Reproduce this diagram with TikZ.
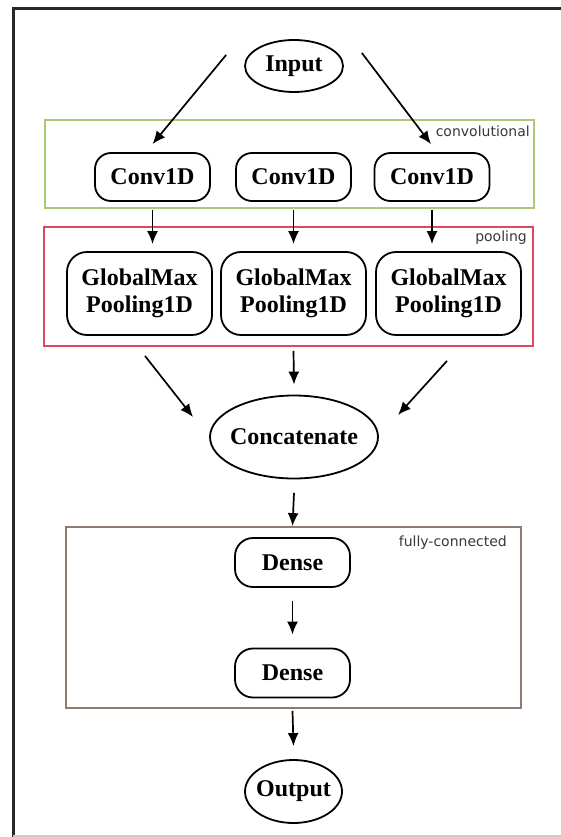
\documentclass[tikz,border=0pt]{standalone}
\usepackage{fontspec}
\setmainfont{Liberation Serif}
\newfontfamily\lblfont{DejaVu Sans}
\usetikzlibrary{shapes.geometric,arrows.meta,calc}
\definecolor{convgreen}{RGB}{172,202,118}
\definecolor{poolred}{RGB}{222,72,92}
\definecolor{fcbrown}{RGB}{140,124,114}
\definecolor{framegray}{RGB}{40,40,40}
\newcommand{\ctrtext}[1]{\makebox[0pt]{#1}}
\begin{document}
\begin{tikzpicture}[x=1pt,y=-1pt,
  mainfont/.style={font=\fontsize{24}{27}\selectfont\bfseries},
  box/.style={mainfont, draw=black, line width=1.8pt, rounded corners=16pt,
    minimum width=115pt, minimum height=48pt, inner sep=0pt, align=center},
  poolbox/.style={box, rounded corners=20pt, minimum width=145pt, minimum height=83pt},
  oval/.style={mainfont, draw=black, line width=1.8pt, ellipse, inner sep=0pt},
  arr/.style={-{Latex[length=13pt,width=11pt]}, line width=1.7pt},
  group/.style={line width=1.8pt},
  grouplabel/.style={font=\lblfont\fontsize{14}{16}\selectfont, text=black!78, anchor=east, inner sep=0pt}
]
\useasboundingbox (0,0) rectangle (561,837);
% outer frame
\draw[framegray, line width=3pt] (561,9) -- (13,9) -- (13,837);
\draw[black!20, line width=1.5pt] (13,836) -- (561,836);

% groups
\draw[group, draw=convgreen] (45,120) rectangle (534,208);
\node[grouplabel] (lconv) at (530,131) {convolutional};
\draw[group, draw=poolred] (44,227) rectangle (533,346);
\node[grouplabel] (lpool) at (527,238) {pooling};
\draw[group, draw=fcbrown] (66,527) rectangle (521,708);
\node[grouplabel] (lfc) at (507,543) {fully-connected};

% nodes
\node[oval, minimum width=98pt, minimum height=52pt] (in) at (294,66) {\ctrtext{Input}};
\node[box] (c1) at (152.5,177) {Conv1D};
\node[box] (c2) at (293.5,177) {Conv1D};
\node[box] (c3) at (432,177) {Conv1D};
\node[poolbox] (p1) at (139.5,293.5) {GlobalMax\\Pooling1D};
\node[poolbox] (p2) at (293.5,293.5) {GlobalMax\\Pooling1D};
\node[poolbox] (p3) at (448.5,293.5) {GlobalMax\\Pooling1D};
\node[oval, minimum width=168pt, minimum height=83pt] (cc) at (294,437) {\ctrtext{Concatenate}};
\node[box, minimum height=49pt, rounded corners=18pt] (d1) at (292.5,562.5) {Dense};
\node[box, minimum height=49pt, rounded corners=18pt] (d2) at (292.5,673) {Dense};
\node[oval, minimum width=97pt, minimum height=63pt] (out) at (293.5,791.5) {\ctrtext{Output}};

% connectors
\draw[arr] ($(in.west)+(-18,-11)$) -- ($(c1.north)+(0,-8)$);
\draw[arr] ($(in.east)+(18,-13)$) -- ($(c3.north)+(-1,-8)$);
\draw[arr] ($(c1.south)+(0,8)$) -- ($(c1.south |- p1.north)+(0,-7)$);
\draw[arr] ($(c2.south)+(0,8)$) -- ($(c2.south |- p2.north)+(0,-7)$);
\draw[arr] ($(c3.south)+(0,8)$) -- ($(c3.south |- p3.north)+(0,-7)$);
\draw[arr] ($(p1.south)+(5.5,20)$) -- ($(cc)+(-101,-20)$);
\draw[arr] ($(p2.south)+(0,15)$) -- ($(cc.north)+(0,-10)$);
\draw[arr] ($(p3.south)+(-1.5,25)$) -- ($(cc)+(104,-22)$);
\draw[arr] ($(cc.south)+(0,13.5)$) -- ($(d1.north)+(0,-11)$);
\draw[arr] ($(d1.south)+(0,13)$) -- ($(d2.north)+(0,-13)$);
\draw[arr] ($(d2.south)+(0,12.5)$) -- ($(out.north)+(0,-13)$);
\end{tikzpicture}
\end{document}
